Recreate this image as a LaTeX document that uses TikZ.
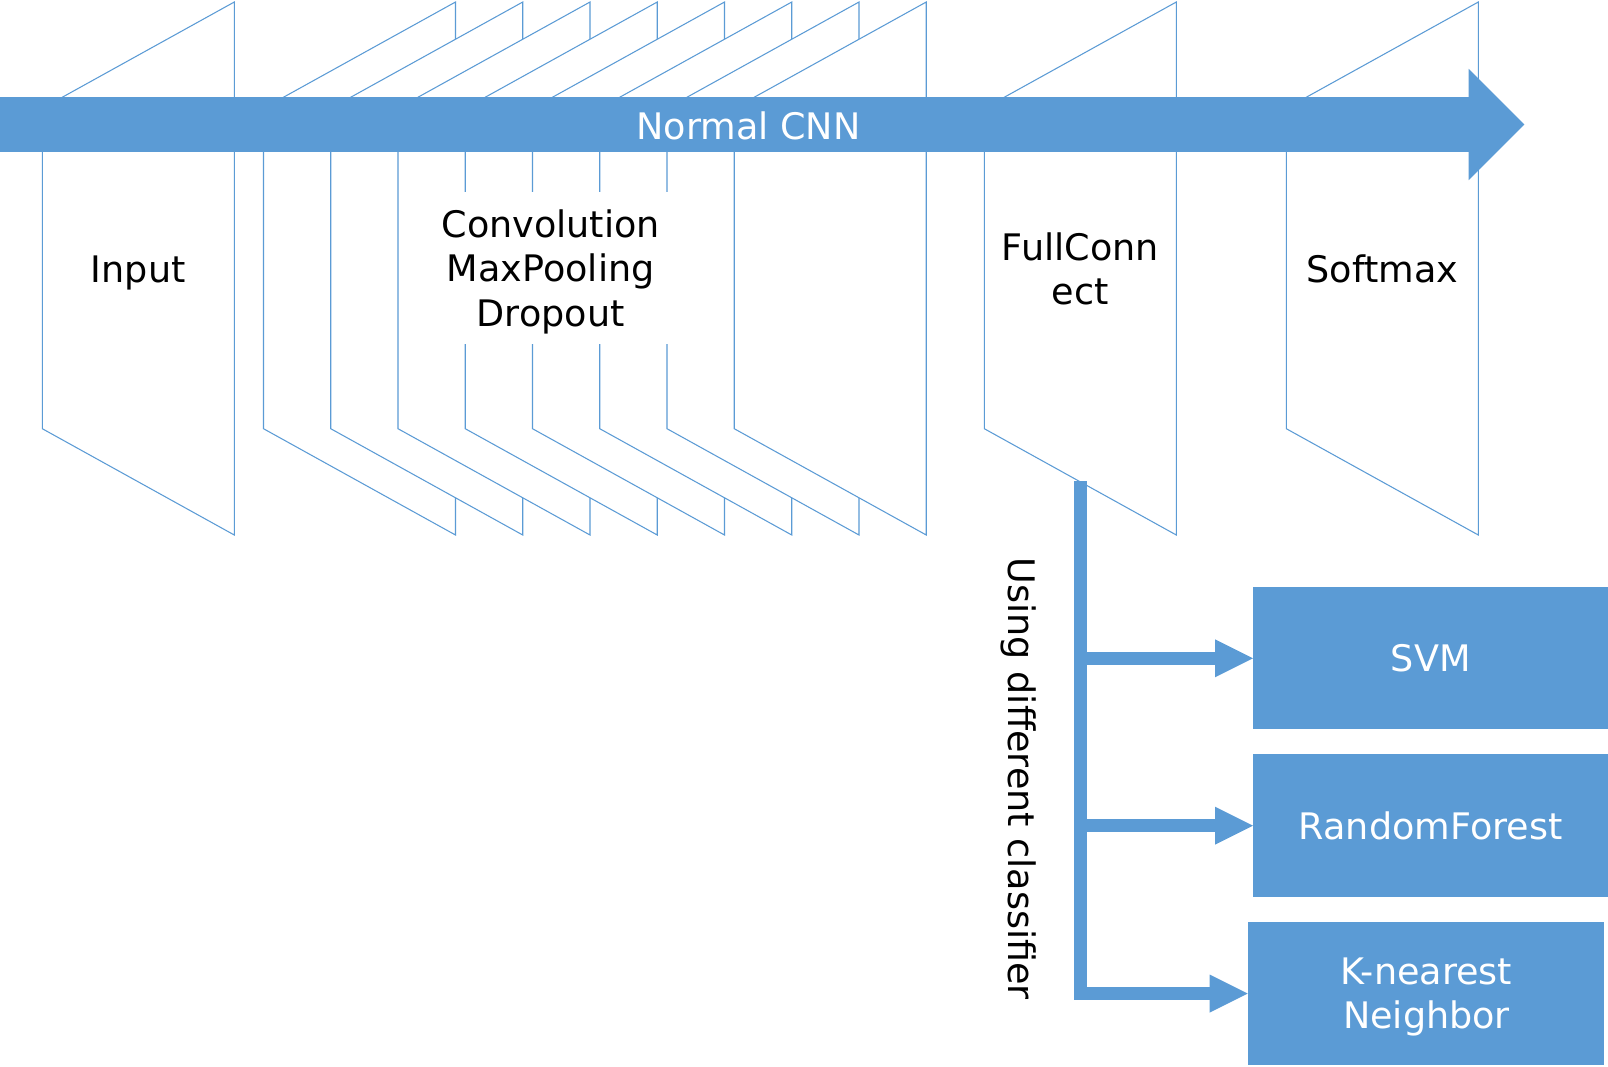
\documentclass[tikz,border=0pt]{standalone}
\usepackage{fontspec}
\setmainfont{DejaVu Sans}
\usetikzlibrary{arrows.meta,calc}
\definecolor{cnnblue}{RGB}{91,155,213}
\newcommand\dfont{\fontsize{20.8pt}{25.3pt}\selectfont}
\begin{document}
\begin{tikzpicture}[x=0.02cm, y=-0.02cm,
  layer/.style={draw=cnnblue, fill=white, line width=0.6pt, line join=miter},
  lbl/.style={font=\dfont, text=black, align=center, inner sep=0pt},
  wlbl/.style={font=\dfont, text=white, align=center, inner sep=0pt},
  clsbox/.style={fill=cnnblue, draw=none, inner sep=0pt, font=\dfont, text=white, align=center,
                 minimum width=7.094cm, minimum height=2.84cm},
  bigarrow/.style={draw=cnnblue, line width=1.112cm,
                   -{Triangle[length=1.112cm, width=2.226cm, line width=0pt]}},
  feed/.style={draw=cnnblue, line width=0.26cm,
               -{Triangle[length=0.76cm, width=0.76cm, line width=0pt]}},
]
\useasboundingbox (0,0) rectangle (1608,1066);

% layers (trapezoids), drawn left to right so each covers the previous one
\foreach \l in {42.3, 263.5, 330.75, 398, 465.25, 532.5, 599.75, 667, 734.25, 984.3, 1286.3}
  \draw[layer] (\l,108.3) -- ++(192,-106.3) -- ++(0,533) -- ++(-192,-106.3) -- cycle;

% white backing of the convolution text
\fill[white] (415,191.8) rectangle (686,343.5);

% main CNN arrow
\coordinate (cnnstart) at (0,124.5);
\coordinate (cnnend) at (1524.3,124.5);
\draw[bigarrow] (cnnstart) -- (cnnend);
\node[wlbl, anchor=base] (cnn) at (748.6,139.6) {Normal CNN};

% layer labels
\node[lbl, anchor=base] (input) at (138.3,282.5) {Input};
\node[lbl] (conv) at (550.7,271.5) {Convolution\\MaxPooling\\Dropout};
\node[lbl] (fc) at (1080.3,269) {FullConn\\ect};
\node[lbl, anchor=base] (softmax) at (1382.3,282.5) {Softmax};

% classifier boxes
\node[clsbox] (svm) at (1430.65,658.3) {SVM};
\node[clsbox, minimum height=2.866cm] (rf) at (1430.65,825.65) {RandomForest};
\node[clsbox, minimum width=7.12cm, minimum height=2.86cm] (knn) at (1426,993.5) {};
\node[wlbl] (knntext) at (1426.5,996.8) {K-nearest\\Neighbor};

% feeding connectors
\coordinate (fcfoot) at (1080.5,481);
\draw[feed] (fcfoot) -- (fcfoot |- knn.west) -- (knn.west);
\draw[feed] (fcfoot |- svm.west) -- (svm.west);
\draw[feed] (fcfoot |- rf.west) -- (rf.west);

\node[lbl, rotate=-90] (using) at (1018.5,778.9) {Using different classifier};
\end{tikzpicture}
\end{document}
